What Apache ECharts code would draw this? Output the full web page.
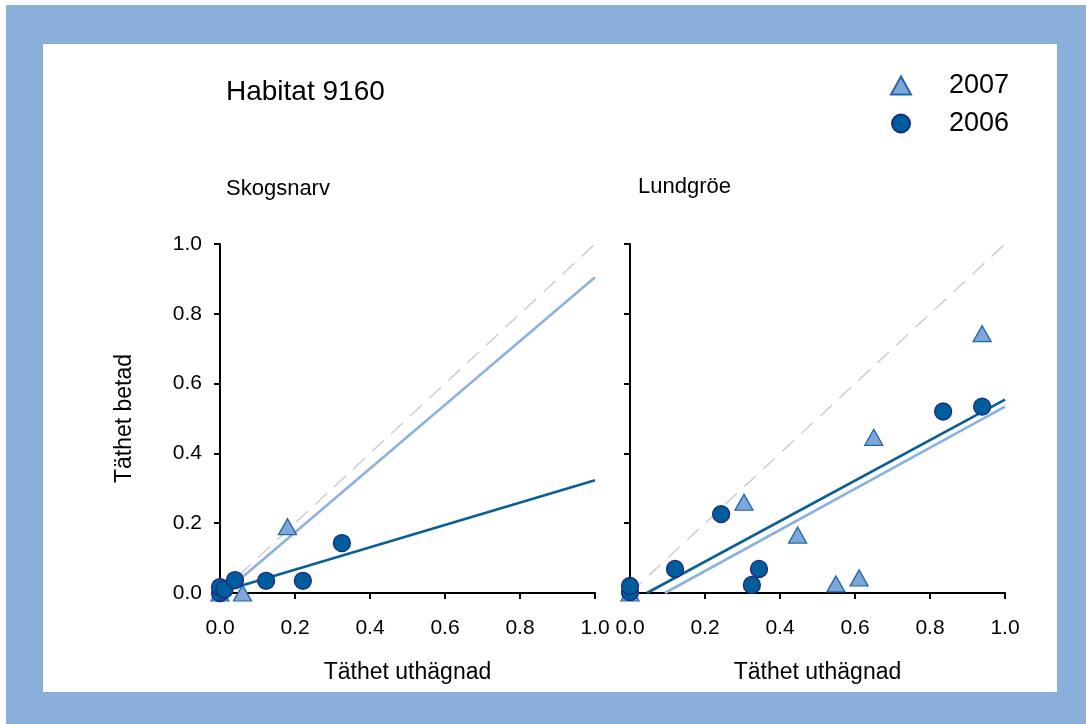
<!DOCTYPE html>
<html>
<head>
<meta charset="utf-8">
<script src="https://cdn.jsdelivr.net/npm/echarts@6/dist/echarts.min.js"></script>
<style>
  html, body { margin: 0; padding: 0; background: #ffffff; }
  #frame { position: absolute; left: 6px; top: 5px; width: 1080px; height: 719px; background: #8aafda; }
  #panel { position: absolute; left: 43px; top: 44px; width: 1014px; height: 648px; background: #ffffff; }
  #chart { position: absolute; left: 0; top: 0; width: 1086px; height: 724px; }
</style>
</head>
<body>
<div id="frame"></div>
<div id="panel"></div>
<div id="chart"></div>
<script>
// Density in grazed vs. fenced plots, habitat 9160
const panelTitles = ['Skogsnarv', 'Lundgröe'];
const years = ['2007', '2006'];
const axisTicks = [0, 0.2, 0.4, 0.6, 0.8, 1.0];

// Skogsnarv: [täthet uthägnad, täthet betad]
const skogsnarv2007 = [[0, 0], [0.06, 0.0], [0.18, 0.19]];
const skogsnarv2006 = [[0, 0], [0, 0.017], [0.012, 0.01], [0.04, 0.037], [0.123, 0.035], [0.221, 0.035], [0.325, 0.143]];
// Lundgröe
const lundgroe2007 = [[0, 0], [0.304, 0.26], [0.447, 0.166], [0.549, 0.026], [0.611, 0.043], [0.65, 0.446], [0.939, 0.743]];
const lundgroe2006 = [[0, 0.003], [0, 0.02], [0.12, 0.069], [0.243, 0.226], [0.325, 0.023], [0.344, 0.069], [0.835, 0.52], [0.939, 0.534]];

// Regression lines (end points)
const skogsnarvFit2007 = [[0.01, 0], [1.0, 0.905]];
const skogsnarvFit2006 = [[0, 0.003], [1.0, 0.323]];
const lundgroeFit2007 = [[0.093, 0], [1.0, 0.534]];
const lundgroeFit2006 = [[0.045, 0], [1.0, 0.554]];
// 1:1 reference line
const oneToOne = [[0, 0], [1, 1]];

const FONT = 'Liberation Sans, Arial, sans-serif';
const C_DARK = '#0a5f97';
const C_LIGHT = '#8db1df';

const chart = echarts.init(document.getElementById('chart'), null, { renderer: 'canvas' });

function xAxis(gridIndex) {
  return {
    gridIndex, type: 'value', min: 0, max: 1, interval: 0.2,
    name: 'Täthet uthägnad', nameLocation: 'middle', nameGap: 68,
    nameTextStyle: { color: '#000', fontFamily: FONT, fontSize: 23 },
    axisLine: { show: true, onZero: false, lineStyle: { color: '#000', width: 2 } },
    axisTick: { show: true, inside: false, length: 6, lineStyle: { color: '#000', width: 2 } },
    axisLabel: { show: true, margin: 25, color: '#000', fontFamily: FONT, fontSize: 21,
                 formatter: v => v.toFixed(1) },
    splitLine: { show: false }
  };
}
function yAxis(gridIndex, withLabels) {
  return {
    gridIndex, type: 'value', min: 0, max: 1, interval: 0.2,
    name: withLabels ? 'Täthet betad' : '', nameLocation: 'middle', nameGap: 84,
    nameTextStyle: { color: '#000', fontFamily: FONT, fontSize: 23 },
    axisLine: { show: true, onZero: false, lineStyle: { color: '#000', width: 2 } },
    axisTick: { show: true, inside: false, length: 6, lineStyle: { color: '#000', width: 2 } },
    axisLabel: { show: withLabels, margin: 18, color: '#000', fontFamily: FONT, fontSize: 21,
                 formatter: v => v.toFixed(1) },
    splitLine: { show: false }
  };
}

function scatter(name, data, idx, symbol) {
  const tri = symbol === 'triangle';
  return {
    name, type: 'scatter', xAxisIndex: idx, yAxisIndex: idx, data,
    symbol, symbolSize: tri ? [18, 16] : 17, z: tri ? 5 : 6,
    itemStyle: tri
      ? { color: '#7da7d9', borderColor: '#2366a5', borderWidth: 1.3, opacity: 1 }
      : { color: '#005d9b', borderColor: '#1b2a80', borderWidth: 1.3, opacity: 1 }
  };
}
function fitLine(name, data, idx, color) {
  return {
    name, type: 'line', xAxisIndex: idx, yAxisIndex: idx, data,
    showSymbol: false, symbol: 'none', z: 3, silent: true,
    lineStyle: { color, width: 2.6 }
  };
}
function diag(idx) {
  return {
    name: '1:1', type: 'line', xAxisIndex: idx, yAxisIndex: idx, data: oneToOne,
    showSymbol: false, symbol: 'none', z: 1, silent: true,
    lineStyle: { color: '#c4c4c4', width: 1.2, type: [16, 10] }
  };
}

const titleStyle = size => ({ fontFamily: FONT, fontSize: size, fontWeight: 'normal', color: '#000' });

const option = {
  animation: false,
  backgroundColor: 'transparent',
  title: [
    { text: 'Habitat 9160', left: 226, top: 78, padding: 0, textStyle: titleStyle(28) },
    { text: panelTitles[0], left: 226, top: 178, padding: 0, textStyle: titleStyle(22) },
    { text: panelTitles[1], left: 638, top: 176, padding: 0, textStyle: titleStyle(22) }
  ],
  legend: {
    data: years, orient: 'vertical', left: 890, top: 72, padding: 0, itemGap: 11,
    itemWidth: 20, itemHeight: 18,
    textStyle: { fontFamily: FONT, fontSize: 27, color: '#000', padding: [0, 0, 0, 33] },
    selectedMode: false
  },
  grid: [
    { left: 220, top: 244, width: 375, height: 349 },
    { left: 630, top: 244, width: 375, height: 349 }
  ],
  xAxis: [xAxis(0), xAxis(1)],
  yAxis: [yAxis(0, true), yAxis(1, false)],
  series: [
    diag(0), diag(1),
    fitLine('fit2007a', skogsnarvFit2007, 0, C_LIGHT),
    fitLine('fit2006a', skogsnarvFit2006, 0, C_DARK),
    fitLine('fit2007b', lundgroeFit2007, 1, C_LIGHT),
    fitLine('fit2006b', lundgroeFit2006, 1, C_DARK),
    scatter(years[0], skogsnarv2007, 0, 'triangle'),
    scatter(years[1], skogsnarv2006, 0, 'circle'),
    scatter(years[0], lundgroe2007, 1, 'triangle'),
    scatter(years[1], lundgroe2006, 1, 'circle')
  ]
};
chart.setOption(option);
</script>
</body>
</html>
